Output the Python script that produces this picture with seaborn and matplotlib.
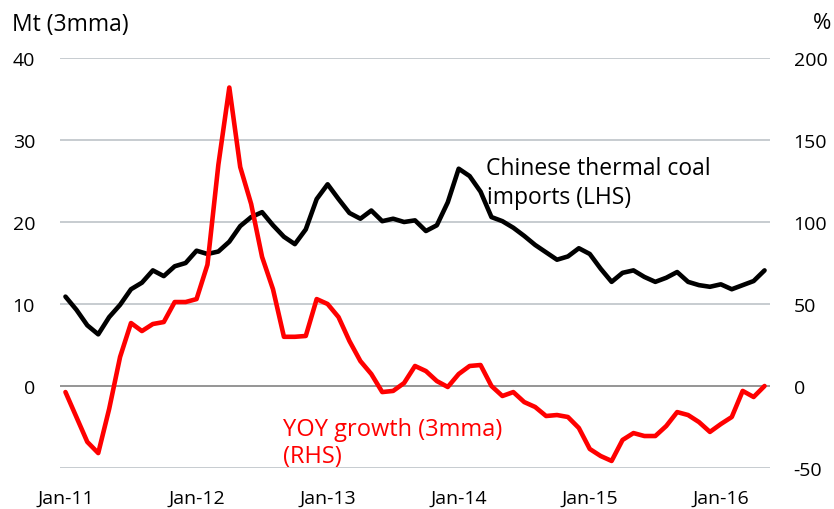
import numpy as np
import pandas as pd
import matplotlib
matplotlib.use("Agg")
import matplotlib.pyplot as plt
import seaborn as sns

# monthly data Jan-11 .. May-16 (3mma)
months = pd.date_range("2011-01-01", "2016-05-01", freq="MS")
imports_mt = [10.9, 9.3, 7.4, 6.3, 8.4, 9.9, 11.8, 12.6, 14.1, 13.4,
              14.6, 15.0, 16.5, 16.1, 16.4, 17.6, 19.5, 20.6, 21.2, 19.6,
              18.2, 17.3, 19.1, 22.8, 24.6, 22.8, 21.1, 20.4, 21.4, 20.1,
              20.4, 20.0, 20.2, 18.9, 19.6, 22.4, 26.5, 25.6, 23.7, 20.6,
              20.1, 19.3, 18.3, 17.2, 16.3, 15.4, 15.8, 16.8, 16.1, 14.3,
              12.7, 13.8, 14.1, 13.3, 12.7, 13.2, 13.9, 12.7, 12.3, 12.1,
              12.4, 11.8, 12.3, 12.8, 14.1]
yoy_growth = [-3.7, -18.9, -34.1, -40.9, -14.0, 17.7, 38.4, 33.5, 37.8, 39.0,
              51.2, 51.2, 53.0, 74.0, 135.0, 182.0, 133.5, 111.0, 78.7, 59.0,
              30.0, 30.0, 30.5, 53.0, 50.0, 42.0, 27.4, 15.2, 7.3, -3.7,
              -3.0, 1.8, 12.2, 9.1, 3.0, -0.6, 7.3, 12.2, 12.8, 0.0,
              -6.1, -3.7, -9.8, -12.8, -18.3, -17.7, -18.9, -25.6, -38.4, -42.7,
              -45.7, -32.9, -28.7, -30.5, -30.5, -24.4, -15.9, -17.7, -22.0, -28.0,
              -23.2, -18.9, -3.0, -6.7, 0.0]

left_ticks = [-10, 0, 10, 20, 30, 40]
left_labels = ["", "0", "10", "20", "30", "40"]
right_ticks = [-50, 0, 50, 100, 150, 200]

df = pd.DataFrame({"idx": np.arange(len(months)), "imports": imports_mt, "yoy": yoy_growth})

sns.set_theme(style="white")
plt.rcParams["font.family"] = ["Open Sans", "DejaVu Sans"]
plt.rcParams["text.color"] = "black"

fig = plt.figure(figsize=(8.34, 5.10), dpi=100)
ax = fig.add_axes([60 / 834, 41 / 510, 710 / 834, 410 / 510])
ax2 = ax.twinx()

grid_c = "#c3c8cd"
for t in left_ticks:
    ax.axhline(t, color="#8c8c8c" if t == 0 else grid_c, lw=1.3, zorder=0)

sns.lineplot(data=df, x="idx", y="imports", ax=ax, color="black", lw=3.3,
             solid_joinstyle="round", solid_capstyle="round")
sns.lineplot(data=df, x="idx", y="yoy", ax=ax2, color="#ff0000", lw=3.3,
             solid_joinstyle="round", solid_capstyle="round")

ax.set_xlim(-0.5, len(months) - 0.5)
ax.set_ylim(-10, 40)
ax2.set_ylim(-50, 200)
ax.set_yticks(left_ticks)
ax.set_yticklabels(left_labels)
ax2.set_yticks(right_ticks)
ax2.set_yticklabels([str(t) for t in right_ticks])

jan_idx = [i for i, m in enumerate(months) if m.month == 1]
ax.set_xticks(jan_idx)
ax.set_xticklabels([months[i].strftime("%b-%y") for i in jan_idx])

for a in (ax, ax2):
    a.set_xlabel("")
    a.set_ylabel("")
    for s in a.spines.values():
        s.set_visible(False)
    a.tick_params(length=0, labelsize=14, colors="black")
ax.tick_params(axis="y", pad=18)
ax.tick_params(axis="x", pad=15)
ax2.tick_params(axis="y", pad=17)

fig.text(12 / 834, 1 - 31 / 510, "Mt (3mma)", fontsize=16.5, va="baseline", ha="left")
fig.text(831 / 834, 1 - 29 / 510, "%", fontsize=16, va="baseline", ha="right")

fig.text(486 / 834, 1 - 175 / 510, "Chinese thermal coal", fontsize=16.5, va="baseline")
fig.text(487 / 834, 1 - 204 / 510, "imports (LHS)", fontsize=16.5, va="baseline")
fig.text(283 / 834, 1 - 436 / 510, "YOY growth (3mma)", fontsize=17, color="#ff0000", va="baseline")
fig.text(283 / 834, 1 - 463 / 510, "(RHS)", fontsize=17, color="#ff0000", va="baseline")

fig.savefig("out.png", dpi=100)
